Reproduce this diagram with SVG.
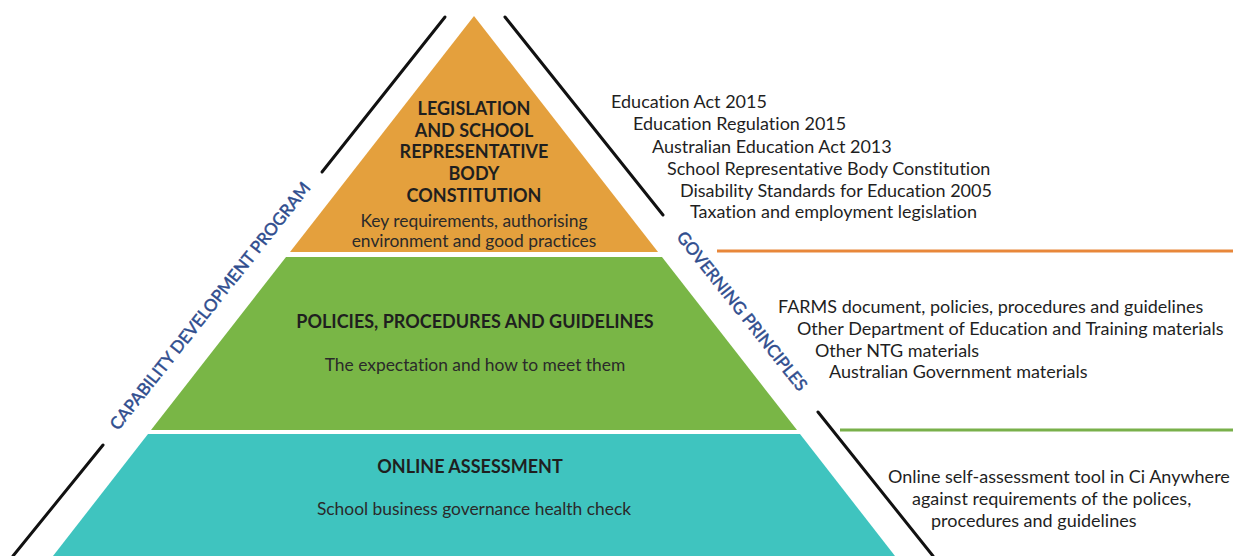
<svg xmlns="http://www.w3.org/2000/svg" width="1233" height="556" viewBox="0 0 1233 556">
  <style>
    text { font-variant-ligatures: none; }
    .head { font-family: Lato, "Liberation Sans", sans-serif; font-weight: 700; font-size: 18px; fill: #1f1f1f; text-anchor: middle; }
    .sub { font-family: Lato, "Liberation Sans", sans-serif; font-size: 17.4px; fill: #2a2a2a; text-anchor: middle; }
    .note { font-family: Lato, "Liberation Sans", sans-serif; font-size: 18px; fill: #1f1f1f; }
    .side { font-family: Lato, "Liberation Sans", sans-serif; font-size: 17px; fill: #2f4d8e; stroke: #2f4d8e; stroke-width: 0.45; text-anchor: middle; }
    .edge { stroke: #111; stroke-width: 3; stroke-linecap: round; fill: none; }
  </style>
  <rect width="1233" height="556" fill="#ffffff"/>

  <!-- top tier -->
  <g id="tier-legislation">
    <polygon points="474,16 658,252 290,252" fill="#e4a03d"/>
    <text class="head" x="474" y="115">LEGISLATION</text>
    <text class="head" x="474" y="137">AND SCHOOL</text>
    <text class="head" x="474" y="158">REPRESENTATIVE</text>
    <text class="head" x="474" y="180">BODY</text>
    <text class="head" x="474" y="202">CONSTITUTION</text>
    <text class="sub" x="474" y="227">Key requirements, authorising</text>
    <text class="sub" x="474" y="247">environment and good practices</text>
  </g>

  <!-- middle tier -->
  <g id="tier-policies">
    <polygon points="286,257 662,257 797,430 151,430" fill="#79b646"/>
    <text class="head" x="475" y="328">POLICIES, PROCEDURES AND GUIDELINES</text>
    <text class="sub" x="475" y="371">The expectation and how to meet them</text>
  </g>

  <!-- bottom tier -->
  <g id="tier-assessment">
    <polygon points="148,434 800,434 895,556 53,556" fill="#3fc4bf"/>
    <text class="head" x="470" y="473">ONLINE ASSESSMENT</text>
    <text class="sub" x="474" y="515">School business governance health check</text>
  </g>

  <!-- side labels -->
  <g id="label-capability">
    <text class="side" transform="translate(210,306) rotate(-51.5)" x="0" y="6">CAPABILITY DEVELOPMENT PROGRAM</text>
  </g>
  <g id="label-governing">
    <text class="side" transform="translate(742,311) rotate(51.5)" x="0" y="6">GOVERNING PRINCIPLES</text>
  </g>

  <!-- reference lists -->
  <g id="list-legislation">
    <text class="note" x="611" y="108">Education Act 2015</text>
    <text class="note" x="633" y="130">Education Regulation 2015</text>
    <text class="note" x="652" y="153">Australian Education Act 2013</text>
    <text class="note" x="667" y="175">School Representative Body Constitution</text>
    <text class="note" x="680" y="197">Disability Standards for Education 2005</text>
    <text class="note" x="690" y="218">Taxation and employment legislation</text>
  </g>
  <g id="list-policies">
    <text class="note" x="778" y="313">FARMS document, policies, procedures and guidelines</text>
    <text class="note" x="797" y="335">Other Department of Education and Training materials</text>
    <text class="note" x="815" y="357">Other NTG materials</text>
    <text class="note" x="829" y="378">Australian Government materials</text>
  </g>
  <g id="list-assessment">
    <text class="note" x="888" y="483">Online self-assessment tool in Ci Anywhere</text>
    <text class="note" x="912" y="505">against requirements of the polices,</text>
    <text class="note" x="931" y="527">procedures and guidelines</text>
  </g>

  <!-- connectors: framing edges and tier dividers -->
  <g id="connectors">
    <line class="edge" x1="445" y1="17" x2="322" y2="172"/>
    <line class="edge" x1="103" y1="445" x2="13" y2="556"/>
    <line class="edge" x1="505" y1="17" x2="663" y2="215"/>
    <line class="edge" x1="818" y1="412" x2="933" y2="556"/>
    <line x1="717" y1="251" x2="1233" y2="251" stroke="#e8873a" stroke-width="3"/>
    <line x1="840" y1="430" x2="1233" y2="430" stroke="#79b04a" stroke-width="3"/>
  </g>
</svg>
